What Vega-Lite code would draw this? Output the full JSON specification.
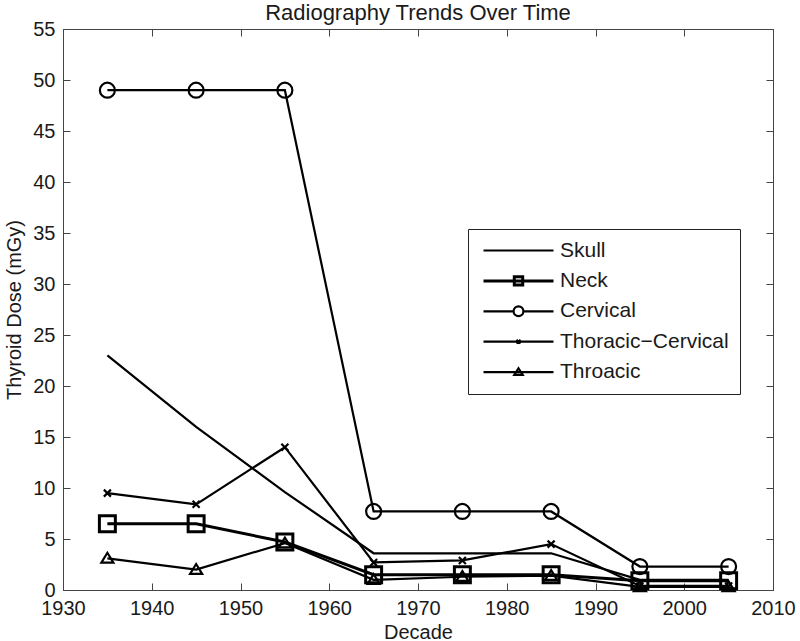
{
  "$schema": "https://vega.github.io/schema/vega-lite/v6.json",
  "width": 710,
  "height": 561,
  "autosize": "none",
  "padding": {"left": 63, "top": 29, "right": 27, "bottom": 51},
  "background": "white",
  "title": {"text": "Radiography Trends Over Time", "fontSize": 22, "font": "Liberation Sans", "fontWeight": "normal", "color": "#1a1a1a", "offset": 8, "dy": 14},
  "config": {
    "view": {"stroke": "#444", "strokeWidth": 1},
    "font": "Liberation Sans",
    "axis": {"domainColor": "#444", "tickColor": "#444", "labelColor": "#1a1a1a", "titleColor": "#1a1a1a", "labelFontSize": 20, "titleFontSize": 20, "titleFontWeight": "normal", "grid": false, "tickSize": -7, "labelFont": "Liberation Sans", "titleFont": "Liberation Sans"},
    "legend": {"symbolSize": 196, "labelFontSize": 21, "labelFont": "Liberation Sans", "labelColor": "#1a1a1a", "fillColor": "white", "strokeColor": "#222", "padding": 11, "rowPadding": 8.4, "symbolOffset": 29, "labelOffset": 31, "symbolOpacity": 1, "symbolFillColor": "transparent", "symbolStrokeColor": "black", "labelLimit": 400}
  },
  "data": {"values": [
    {"series": "Skull", "decade": 1935, "dose": 23},
    {"series": "Skull", "decade": 1945, "dose": 16},
    {"series": "Skull", "decade": 1955, "dose": 9.6},
    {"series": "Skull", "decade": 1965, "dose": 3.6},
    {"series": "Skull", "decade": 1975, "dose": 3.6},
    {"series": "Skull", "decade": 1985, "dose": 3.6},
    {"series": "Skull", "decade": 1995, "dose": 1.0},
    {"series": "Skull", "decade": 2005, "dose": 1.0},
    {"series": "Neck", "decade": 1935, "dose": 6.5},
    {"series": "Neck", "decade": 1945, "dose": 6.5},
    {"series": "Neck", "decade": 1955, "dose": 4.7},
    {"series": "Neck", "decade": 1965, "dose": 1.5},
    {"series": "Neck", "decade": 1975, "dose": 1.5},
    {"series": "Neck", "decade": 1985, "dose": 1.5},
    {"series": "Neck", "decade": 1995, "dose": 0.9},
    {"series": "Neck", "decade": 2005, "dose": 0.9},
    {"series": "Cervical", "decade": 1935, "dose": 49},
    {"series": "Cervical", "decade": 1945, "dose": 49},
    {"series": "Cervical", "decade": 1955, "dose": 49},
    {"series": "Cervical", "decade": 1965, "dose": 7.7},
    {"series": "Cervical", "decade": 1975, "dose": 7.7},
    {"series": "Cervical", "decade": 1985, "dose": 7.7},
    {"series": "Cervical", "decade": 1995, "dose": 2.3},
    {"series": "Cervical", "decade": 2005, "dose": 2.3},
    {"series": "Thoracic-Cervical", "decade": 1935, "dose": 9.5},
    {"series": "Thoracic-Cervical", "decade": 1945, "dose": 8.4},
    {"series": "Thoracic-Cervical", "decade": 1955, "dose": 14},
    {"series": "Thoracic-Cervical", "decade": 1965, "dose": 2.7},
    {"series": "Thoracic-Cervical", "decade": 1975, "dose": 2.9},
    {"series": "Thoracic-Cervical", "decade": 1985, "dose": 4.5},
    {"series": "Thoracic-Cervical", "decade": 1995, "dose": 0.4},
    {"series": "Thoracic-Cervical", "decade": 2005, "dose": 0.4},
    {"series": "Throacic", "decade": 1935, "dose": 3.1},
    {"series": "Throacic", "decade": 1945, "dose": 2.0},
    {"series": "Throacic", "decade": 1955, "dose": 4.6},
    {"series": "Throacic", "decade": 1965, "dose": 1.0},
    {"series": "Throacic", "decade": 1975, "dose": 1.3},
    {"series": "Throacic", "decade": 1985, "dose": 1.4},
    {"series": "Throacic", "decade": 1995, "dose": 0.3},
    {"series": "Throacic", "decade": 2005, "dose": 0.3}
  ]},
  "layer": [
    {
      "mark": {"type": "line", "color": "black"},
      "encoding": {
        "x": {"field": "decade", "type": "quantitative", "scale": {"domain": [1930, 2010], "nice": false, "zero": false},
              "axis": {"orient": "bottom", "values": [1930, 1940, 1950, 1960, 1970, 1980, 1990, 2000, 2010], "format": "d", "labelPadding": 15, "title": "Decade", "titlePadding": 4, "labelFlush": false}},
        "y": {"field": "dose", "type": "quantitative", "scale": {"domain": [0, 55], "nice": false},
              "axis": {"orient": "left", "values": [0, 5, 10, 15, 20, 25, 30, 35, 40, 45, 50, 55], "labelPadding": 15, "title": "Thyroid Dose (mGy)", "titlePadding": 8, "labelFlush": false}},
        "detail": {"field": "series"},
        "strokeWidth": {"field": "series", "type": "nominal", "scale": {"type": "ordinal", "domain": ["Skull", "Neck", "Cervical", "Thoracic-Cervical", "Throacic"], "range": [2.2, 3, 2.2, 2.2, 2.2]}, "legend": null}
      }
    },
    {
      "transform": [{"filter": "datum.series != 'Skull'"}],
      "mark": {"type": "point", "filled": false, "color": "black", "size": 196, "opacity": 1},
      "encoding": {
        "x": {"field": "decade", "type": "quantitative", "scale": {"domain": [1930, 2010], "nice": false, "zero": false},
              "axis": {"orient": "top", "values": [1930, 1940, 1950, 1960, 1970, 1980, 1990, 2000, 2010], "labels": false, "title": null, "domain": false}},
        "y": {"field": "dose", "type": "quantitative", "scale": {"domain": [0, 55], "nice": false},
              "axis": {"orient": "right", "values": [0, 5, 10, 15, 20, 25, 30, 35, 40, 45, 50, 55], "labels": false, "title": null, "domain": false}},
        "shape": {"field": "series", "type": "nominal", "scale": {"domain": ["Neck", "Cervical", "Thoracic-Cervical", "Throacic"], "range": ["M-1.14,-1.14H1.14V1.14H-1.14Z", "M1.07,0A1.07,1.07,0,1,1,-1.07,0A1.07,1.07,0,1,1,1.07,0Z", "M-0.5,-0.5L0.5,0.5M-0.5,0.5L0.5,-0.5", "M0,-0.8L0.86,0.6L-0.86,0.6Z"]}, "legend": null},
        "strokeWidth": {"field": "series", "type": "nominal", "scale": {"type": "ordinal", "domain": ["Neck", "Cervical", "Thoracic-Cervical", "Throacic"], "range": [3, 2.2, 2.2, 2.2]}, "legend": null}
      }
    },
    {
      "mark": {"type": "point", "filled": false, "color": "black", "size": 196, "opacity": 0},
      "encoding": {
        "x": {"field": "decade", "type": "quantitative", "scale": {"domain": [1930, 2010], "nice": false, "zero": false}, "axis": null},
        "y": {"field": "dose", "type": "quantitative", "scale": {"domain": [0, 55], "nice": false}, "axis": null},
        "shape": {"field": "series", "type": "nominal", "scale": {"domain": ["Skull", "Neck", "Cervical", "Thoracic-Cervical", "Throacic"], "range": ["M-5,0H5", "M-5,0H5M-0.6,-0.6H0.6V0.6H-0.6Z", "M-5,0H-0.7M0.7,0H5M0.7,0A0.7,0.7,0,1,1,-0.7,0A0.7,0.7,0,1,1,0.7,0Z", "M-5,0H5M-0.3,-0.25L0.3,0.25M-0.3,0.25L0.3,-0.25", "M-5,0H5M0,-0.55L0.6,0.4L-0.6,0.4Z"]},
                  "legend": {"title": null, "orient": "none", "legendX": 405, "legendY": 200, "labelExpr": "replace(datum.label, '-', '\u2212')"}},
        "strokeWidth": {"field": "series", "type": "nominal", "scale": {"type": "ordinal", "domain": ["Skull", "Neck", "Cervical", "Thoracic-Cervical", "Throacic"], "range": [2.2, 3, 2.2, 2.2, 2.2]},
                  "legend": {"title": null, "orient": "none", "legendX": 405, "legendY": 200, "labelExpr": "replace(datum.label, '-', '\u2212')"}}
      }
    }
  ],
  "resolve": {"scale": {"shape": "independent", "strokeWidth": "independent"}, "axis": {"x": "independent", "y": "independent"}}
}
